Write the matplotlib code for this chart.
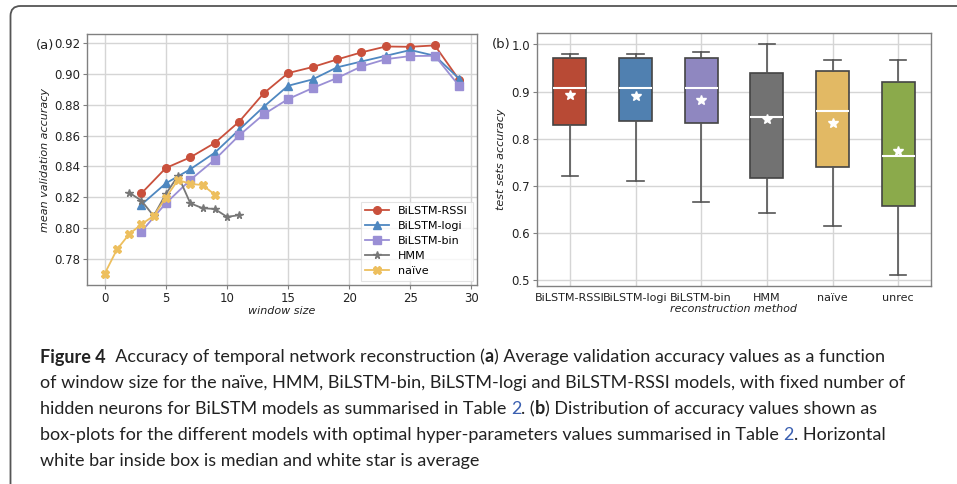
import numpy as np
import matplotlib
matplotlib.use("Agg")
import matplotlib.pyplot as plt
from matplotlib import font_manager, transforms
from matplotlib.patches import FancyBboxPatch

# Panel (a): mean validation accuracy vs window size
win_bilstm = [3, 5, 7, 9, 11, 13, 15, 17, 19, 21, 23, 25, 27, 29]
acc_rssi = [0.8226, 0.8390, 0.8459, 0.8552, 0.8690, 0.8873, 0.9004, 0.9043,
            0.9092, 0.9138, 0.9176, 0.9174, 0.9183, 0.8959]
acc_logi = [0.8153, 0.8291, 0.8382, 0.8489, 0.8638, 0.8786, 0.8922, 0.8963,
            0.9041, 0.9079, 0.9116, 0.9153, 0.9116, 0.8967]
acc_bin = [0.7979, 0.8162, 0.8313, 0.8444, 0.8601, 0.8737, 0.8836, 0.8907,
           0.8972, 0.9047, 0.9094, 0.9114, 0.9116, 0.8920]
win_hmm = [2, 3, 4, 5, 6, 7, 8, 9, 10, 11]
acc_hmm = [0.8231, 0.8179, 0.8080, 0.8222, 0.8340, 0.8162, 0.8130, 0.8125,
           0.8074, 0.8085]
win_naive = [0, 1, 2, 3, 4, 5, 6, 7, 8, 9]
acc_naive = [0.7707, 0.7863, 0.7962, 0.8026, 0.8080, 0.8199, 0.8313, 0.8287,
             0.8280, 0.8218]

# Panel (b): box-plot statistics of test sets accuracy
methods = ["BiLSTM-RSSI", "BiLSTM-logi", "BiLSTM-bin", "HMM", "naïve", "unrec"]
whislo = [0.7214, 0.7101, 0.6657, 0.6410, 0.6149, 0.5113]
q1 = [0.8286, 0.8370, 0.8336, 0.7172, 0.7405, 0.6565]
med = [0.9083, 0.9069, 0.9083, 0.8470, 0.8582, 0.7623]
q3 = [0.9711, 0.9710, 0.9710, 0.9386, 0.9429, 0.9196]
whishi = [0.9795, 0.9795, 0.9838, 1.0000, 0.9676, 0.9676]
means = [0.8920, 0.8914, 0.8822, 0.8420, 0.8336, 0.7729]

line_colors = ["#C9503C", "#4E87C0", "#9A8FD5", "#777777", "#EDBF5E"]
box_colors = ["#B84A35", "#5080B0", "#8F87C0", "#727272", "#E2B964", "#8BAA4B"]

plt.rcParams["font.family"] = "DejaVu Sans"
plt.rcParams["axes.edgecolor"] = "#808080"
plt.rcParams["axes.linewidth"] = 1.0
plt.rcParams["xtick.color"] = "#808080"
plt.rcParams["ytick.color"] = "#808080"
plt.rcParams["xtick.labelcolor"] = "#222222"
plt.rcParams["ytick.labelcolor"] = "#222222"

W, H, DPI = 957, 484, 100
fig = plt.figure(figsize=(W / DPI, H / DPI), dpi=DPI)


def px_axes(x0, y0, x1, y1):
	# rectangle given in pixels from the top-left corner
	return fig.add_axes([x0 / W, 1 - y1 / H, (x1 - x0) / W, (y1 - y0) / H])


grid_style = {"color": "#d5d5d5", "linewidth": 1.0}

# ---- panel (a)
ax1 = px_axes(87, 34, 477, 285)
ax1.plot(win_bilstm, acc_rssi, marker="o", ms=5.5, lw=1.3, color=line_colors[0], label="BiLSTM-RSSI")
ax1.plot(win_bilstm, acc_logi, marker="^", ms=5.5, lw=1.3, color=line_colors[1], label="BiLSTM-logi")
ax1.plot(win_bilstm, acc_bin, marker="s", ms=5.5, lw=1.3, color=line_colors[2], label="BiLSTM-bin")
ax1.plot(win_hmm, acc_hmm, marker="*", ms=5.5, lw=1.3, color=line_colors[3], label="HMM")
ax1.plot(win_naive, acc_naive, marker="X", ms=5.5, lw=1.3, color=line_colors[4], label="naïve")
ax1.set_yticks([0.78, 0.80, 0.82, 0.84, 0.86, 0.88, 0.90, 0.92])
ax1.set_xticks([0, 5, 10, 15, 20, 25, 30])
ax1.grid(True, **grid_style)
ax1.set_axisbelow(True)
ax1.tick_params(labelsize=8.5, length=3, pad=2)
ax1.set_xlabel("window size", fontsize=8, style="italic", labelpad=1, color="#222222")
ax1.set_ylabel("mean validation accuracy", fontsize=8, style="italic", labelpad=3, color="#222222")
leg = ax1.legend(loc="lower right", fontsize=8, frameon=True, fancybox=False,
                 edgecolor="#dddddd", borderaxespad=0.4, handlelength=2.2,
                 labelspacing=0.45)
leg.get_frame().set_linewidth(0.8)
ax1.text(-0.085, 0.955, "(a)", transform=ax1.transAxes, fontsize=9.5,
         ha="right", va="center", color="#222222")

# ---- panel (b)
ax2 = px_axes(537, 33, 931, 286)
stats = []
for i in range(len(methods)):
	stats.append({"whislo": whislo[i], "q1": q1[i], "med": med[i],
	              "q3": q3[i], "whishi": whishi[i], "mean": means[i],
	              "fliers": []})
pos = np.arange(len(methods))
bp = ax2.bxp(stats, positions=pos, widths=0.5, patch_artist=True,
             showmeans=True,
             boxprops={"edgecolor": "#444444", "linewidth": 1.2},
             whiskerprops={"color": "#555555", "linewidth": 1.2},
             capprops={"color": "#555555", "linewidth": 1.2},
             medianprops={"color": "white", "linewidth": 1.5},
             meanprops={"marker": "*", "markerfacecolor": "white",
                        "markeredgecolor": "white", "markersize": 7})
for patch, c in zip(bp["boxes"], box_colors):
	patch.set_facecolor(c)
ax2.set_xticks(pos)
ax2.set_xticklabels(methods)
ax2.set_yticks([0.5, 0.6, 0.7, 0.8, 0.9, 1.0])
ax2.set_xlim(-0.5, 5.5)
ax2.margins(y=0.05)
ax2.grid(True, **grid_style)
ax2.set_axisbelow(True)
ax2.tick_params(axis="x", labelsize=8, length=0, pad=5)
ax2.tick_params(axis="y", labelsize=8.5, length=3, pad=2)
ax2.set_xlabel("reconstruction method", fontsize=8, style="italic", labelpad=1, color="#222222")
ax2.set_ylabel("test sets accuracy", fontsize=8, style="italic", labelpad=4, color="#222222")
ax2.text(-0.066, 0.955, "(b)", transform=ax2.transAxes, fontsize=9.5,
         ha="right", va="center", color="#222222")

# ---- frame around figure
frame = FancyBboxPatch((10.5, -100), 1200, 478 + 100, boxstyle="round,pad=0,rounding_size=10",
                       transform=transforms.IdentityTransform(), facecolor="none",
                       edgecolor="#555555", linewidth=1.3, clip_on=False)
fig.patches.append(frame)

# ---- caption
cap_font = "DejaVu Sans"
for name in ["Lato", "Roboto", "Open Sans"]:
	try:
		font_manager.findfont(name, fallback_to_default=False)
		cap_font = name
		break
	except Exception:
		pass

cap_color = "#222222"
link = "#3a5fb0"
caption = [
	[("Figure 4", "bold", cap_color), ("  Accuracy of temporal network reconstruction (", "normal", cap_color),
	 ("a", "bold", cap_color), (") Average validation accuracy values as a function", "normal", cap_color)],
	[("of window size for the naïve, HMM, BiLSTM-bin, BiLSTM-logi and BiLSTM-RSSI models, with fixed number of", "normal", cap_color)],
	[("hidden neurons for BiLSTM models as summarised in Table ", "normal", cap_color), ("2", "normal", link),
	 (". (", "normal", cap_color), ("b", "bold", cap_color),
	 (") Distribution of accuracy values shown as", "normal", cap_color)],
	[("box-plots for the different models with optimal hyper-parameters values summarised in Table ", "normal", cap_color),
	 ("2", "normal", link), (". Horizontal", "normal", cap_color)],
	[("white bar inside box is median and white star is average", "normal", cap_color)],
]
line_y = [357, 383, 409, 435, 461]
x_start, x_end = 40.0, 937.0

renderer = fig.canvas.get_renderer()


def draw_line(segs, yy, size):
	x = x_start
	texts = []
	for txt, weight, col in segs:
		t = fig.text(x / W, 1 - yy / H, txt, fontsize=size, family=cap_font,
		             weight=weight, color=col, ha="left", va="center")
		x += t.get_window_extent(renderer=renderer).width
		texts.append(t)
	return x, texts


# fit the font size so the first caption line spans the same width as the reference
base = 11.0
end, tmp = draw_line(caption[0], line_y[0], base)
for t in tmp:
	t.remove()
cap_size = base * (x_end - x_start) / (end - x_start)
cap_size = min(cap_size, 13.0)

for segs, yy in zip(caption, line_y):
	draw_line(segs, yy, cap_size)

fig.savefig("out.png", dpi=DPI)
